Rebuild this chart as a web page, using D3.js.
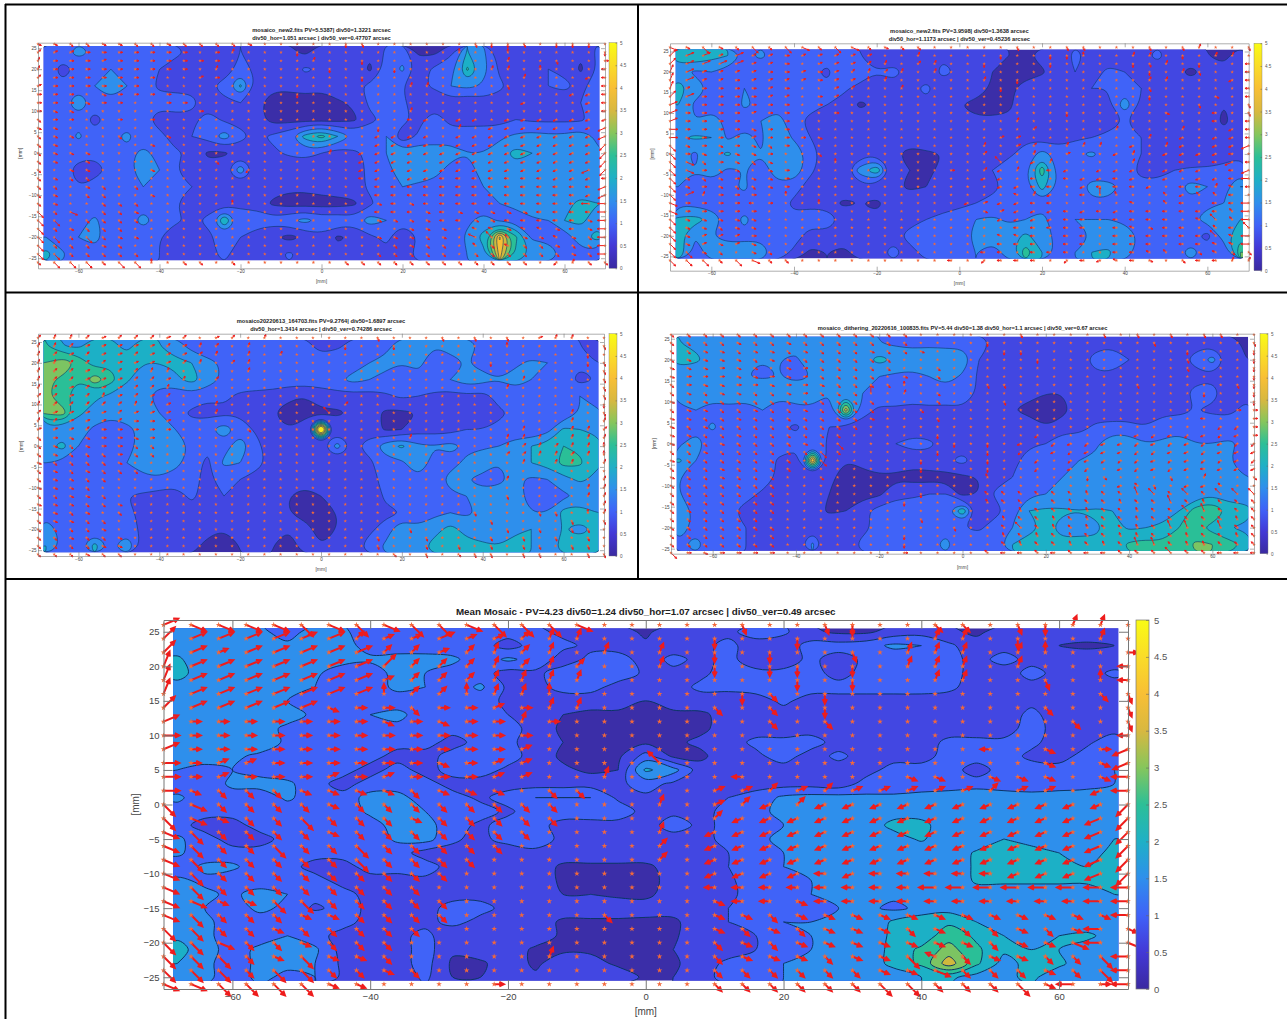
<!DOCTYPE html>
<html>
<head>
<meta charset="utf-8">
<script src="https://cdn.jsdelivr.net/npm/d3@7"></script>
<style>
  html, body { margin: 0; background: #fff; }
  svg { display: block; }
  text { font-family: "Liberation Sans", Arial, sans-serif; }
</style>
</head>
<body>
<svg id="viz" width="1287" height="1019"></svg>
<script>
// ====================
// DATA
// ====================
// colour bands, 0.5 arcsec wide, same as the colorbar ticks
const thresholds = [0.5, 1, 1.5, 2, 2.5, 3, 3.5, 4, 4.5];
const bandColors = ['#3a2fa8', '#4347e2', '#3f64f8', '#2f8fec', '#1fb0c6', '#2cbf97', '#7cc462', '#d0b83e', '#f7bf35', '#f9e81f'];
const colorbarStops = ['#3a2aa0', '#4338d6', '#3f62f8', '#2f8fec', '#1fb0c6', '#2cbf97', '#86c65c', '#d8b840', '#f8bf35', '#fadc28', '#f9fb15'];
const colorbarTicks = [0, 0.5, 1, 1.5, 2, 2.5, 3, 3.5, 4, 4.5, 5];
const xTicks = [-60, -40, -20, 0, 20, 40, 60];
const yTicks = [-25, -20, -15, -10, -5, 0, 5, 10, 15, 20, 25];

// Values in 0.1 arcsec. Columns x = -68..68 step 4
// Mean mosaic rows y = 25..-25 step 2
const meanZ = [
  [17,17,17,16,13,17,16, 12,12,11,11,12,12,11, 9,8,7,4,8,9,9, 12,11,6,4,4,7,8, 6,4,7,8,9,8,8],
  [17,15,17,17,16,16,17, 13,12,12,12,12,8,12, 11,9,8,6,8,9,11, 8,7,12,12,13,16,15, 11,7,8,9,5,4,5],
  [21,16,17,17,17,15,17, 16,17,17,16,12,16,13, 8,11,12,8,11,9,11, 8,8,11,8,11,12,12, 12,8,12,8,8,8,7],
  [22,17,18,18,17,16,12, 12,17,15,13,12,8,9, 12,12,13,9,9,9,12, 11,11,12,8,12,12,12, 12,8,7,12,8,8,11],
  [18,17,17,17,17,15,12, 13,16,15,12,16,9,8, 12,12,8,8,8,11,11, 12,12,12,12,12,12,11, 11,8,8,8,8,8,8],
  [17,16,17,17,15,13,12, 14,13,13,12,12,9,8, 7,7,7,5,7,8,8, 8,11,8,8,8,8,9, 8,8,8,9,8,8,8],
  [17,17,16,17,17,14,12, 15,16,13,12,12,10,8, 5,4,4,4,4,4,7, 8,8,8,8,8,8,7, 8,8,8,11,8,8,8],
  [17,17,18,17,14,13,13, 14,14,12,12,12,12,8, 4,5,4,4,4,4,7, 8,8,8,8,7,7,6, 8,8,8,12,8,8,8],
  [18,17,17,18,14,13,15, 12,12,12,8,12,11,8, 5,4,4,4,4,6,8, 11,11,12,8,8,8,8, 11,11,11,11,8,9,13],
  [17,18,16,14,13,13,12, 12,8,8,12,12,12,8, 4,4,4,12,4,4,8, 9,12,8,11,8,8,8, 12,12,12,9,8,12,14],
  [15,13,15,13,12,12,12, 8,12,8,12,12,9,8, 6,4,5,21,17,7,8, 8,8,8,8,8,12,12, 12,8,12,12,12,14,15],
  [12,12,16,17,16,12,8, 12,12,12,8,8,8,8, 8,8,9,12,9,9,9, 8,8,8,7,12,12,12, 12,12,12,12,13,13,15],
  [16,12,13,12,16,12,12, 17,17,12,12,9,12,15, 15,15,9,9,8,8,10, 12,16,17,17,16,16,17, 18,20,18,17,17,18,19],
  [13,12,12,12,12,12,12, 16,17,15,12,12,9,13, 13,13,13,8,9,9,11, 14,16,16,16,16,17,17, 19,20,15,17,17,16,18],
  [12,8,8,12,12,12,12, 13,17,17,12,9,12,12, 8,8,8,8,12,9,11, 14,15,15,15,16,22,22, 16,16,15,17,16,15,18],
  [16,12,8,8,12,12,12, 12,16,17,11,8,13,14, 8,5,5,5,8,9,11, 14,16,16,15,15,17,21, 15,15,20,19,17,18,20],
  [16,12,12,12,12,12,12, 12,12,8,8,8,5,8, 8,8,8,8,8,9,10, 14,15,15,16,16,15,15, 15,21,21,21,20,17,22],
  [12,16,16,12,12,8,8, 12,12,12,8,8,8,8, 4,4,4,4,7,9,10, 12,15,16,17,16,15,15, 16,21,21,21,21,20,21],
  [16,14,12,12,12,12,8, 8,8,9,8,8,8,8, 4,4,4,4,6,9,9, 13,14,15,16,16,15,15, 15,21,21,21,21,21,21],
  [16,16,14,17,15,12,12, 8,8,8,8,8,5,8, 5,5,4,4,7,9,9, 12,13,15,16,16,16,15, 17,17,17,17,17,17,20],
  [17,15,13,16,14,9,12, 9,8,8,12,12,8,8, 8,8,8,7,7,9,10, 11,14,14,15,16,14,16, 18,17,16,17,18,16,16],
  [18,16,13,13,13,15,12, 8,8,8,12,8,8,8, 4,4,4,4,4,8,10, 12,15,15,15,15,21,24, 24,20,18,18,16,17,17],
  [19,16,13,13,15,12,8, 5,8,12,5,8,8,8, 4,4,4,4,4,9,9, 10,14,15,15,17,21,22, 28,24,20,19,20,21,18],
  [22,17,13,16,16,16,8, 8,8,12,6,8,8,4, 4,4,4,4,5,8,8, 10,12,15,15,16,22,26, 32,26,21,20,20,18,17],
  [20,16,13,16,16,15,9, 5,8,12,4,4,8,4, 8,7,4,4,4,8,11, 13,15,15,17,16,22,26, 38,26,18,22,21,17,17],
  [18,16,13,16,14,15,9, 8,7,11,5,5,7,6, 8,8,8,4,5,9,11, 14,15,15,17,16,16,20, 21,18,19,21,17,17,17]
];

// Small panels, rows y = 24..-24 step 4
const new2aZ = [
  [12,13,17,14,12,11,13, 11,11,9,7,6,10,9, 7,6,4,8,10,9,6, 11,13,4,4,9,20,16, 7,6,8,9,9,6,11],
  [13,8,11,12,15,12,12, 10,8,8,9,7,12,9, 8,7,11,9,6,8,4, 12,16,8,11,13,26,17, 9,7,7,10,9,4,10],
  [14,11,13,15,18,15,12, 9,8,9,9,12,21,9, 6,6,7,6,9,9,11, 13,10,9,11,15,17,14, 11,8,6,10,11,9,12],
  [12,13,19,13,14,13,12, 12,13,11,8,9,10,6, 3,3,3,3,4,6,11, 11,11,7,6,8,5,8, 8,9,9,5,8,10,12],
  [12,11,13,8,12,13,12, 7,8,9,12,9,9,7, 3,3,3,3,3,4,9, 11,12,8,14,7,8,8, 8,10,9,9,9,9,12],
  [11,12,16,12,14,16,13, 12,7,10,12,18,11,9, 11,14,22,27,20,14,13, 15,6,11,12,14,13,13, 14,16,17,16,16,18,14],
  [14,10,11,11,14,14,16, 14,11,9,4,4,8,8, 9,11,12,10,7,9,11, 15,17,19,18,16,15,15, 18,22,20,18,20,18,16],
  [12,11,9,8,11,14,17, 15,10,7,7,9,18,8, 7,5,6,5,7,8,11, 14,17,18,16,14,13,17, 19,18,18,17,18,18,19],
  [11,11,10,12,12,11,15, 13,11,10,8,6,7,8, 7,6,6,7,8,8,11, 14,15,14,14,13,14,15, 15,16,17,17,18,18,19],
  [13,11,11,12,12,12,13, 10,10,8,8,8,9,8, 4,3,3,3,3,4,9, 13,14,14,13,13,14,12, 15,16,20,17,19,21,20],
  [14,11,13,16,12,13,17, 13,11,9,11,25,12,13, 12,14,17,13,14,12,18, 15,11,13,14,14,14,17, 14,13,14,15,20,21,18],
  [15,12,15,17,12,14,12, 10,6,7,9,12,10,7, 6,3,6,9,4,6,9, 11,7,10,12,12,16,22, 46,26,14,14,12,18,22],
  [22,16,11,13,13,12,11, 10,8,8,9,11,8,6, 8,11,8,6,7,6,8, 9,9,11,12,13,15,18, 42,24,19,17,14,13,13]
];
const new2bZ = [
  [22,24,22,20,14,16,13, 12,11,12,11,10,8,7, 8,9,9,8,5,7,5, 4,7,8,11,9,8,6, 9,11,8,7,5,4,7],
  [18,14,15,13,13,12,15, 12,11,9,13,14,10,12, 8,6,12,9,8,5,4, 3,4,9,10,8,11,10, 9,8,6,4,6,6,8],
  [22,18,14,13,15,12,11, 12,13,11,11,8,7,8, 8,12,6,9,9,4,4, 7,9,8,7,10,10,12, 10,6,8,7,7,8,8],
  [20,14,12,12,16,14,13, 12,11,10,8,4,6,6, 7,8,7,5,3,3,4, 8,9,6,5,6,9,19, 9,7,5,7,7,5,9],
  [18,15,19,13,12,15,18, 11,9,9,10,8,7,6, 7,8,7,7,6,6,6, 7,6,7,6,6,8,10, 9,7,6,7,7,4,7],
  [19,21,20,14,17,14,19, 14,10,9,8,10,7,7, 8,9,9,7,8,8,9, 9,8,7,9,10,11,11, 10,9,8,7,8,7,9],
  [17,14,18,21,17,15,18, 20,12,8,7,7,9,6, 3,4,5,5,7,8,9, 12,17,13,14,16,13,14, 10,9,7,6,6,7,9],
  [19,15,18,14,15,13,17, 19,11,7,7,18,24,8, 5,4,6,8,9,10,13, 14,28,13,13,12,11,13, 8,8,10,11,11,12,13],
  [15,13,13,14,16,12,14, 12,8,5,8,8,8,6, 4,5,6,8,7,9,11, 13,22,14,12,17,17,14, 12,12,13,17,15,13,20],
  [14,13,12,14,13,13,12, 9,9,7,4,5,4,7, 8,7,7,9,10,11,12, 14,14,15,13,14,14,13, 14,13,13,14,14,15,17],
  [21,22,19,13,16,13,12, 11,12,14,8,8,6,10, 9,10,12,12,15,16,14, 15,16,13,15,15,15,14, 15,14,15,14,17,18,20],
  [22,15,15,13,14,14,12, 12,8,8,7,8,5,9, 11,10,14,12,17,17,18, 21,18,13,14,15,17,18, 14,13,13,12,8,18,24],
  [24,14,16,18,17,17,13, 9,4,5,4,7,9,11, 9,11,10,12,15,13,17, 28,20,13,15,20,21,16, 14,15,13,17,13,10,30]
];
const mosaicZ = [
  [25,20,19,23,21,19,22, 20,18,13,10,10,10,11, 12,11,12,8,9,12,14, 14,17,16,15,16,18,14, 12,11,11,12,11,10,9],
  [30,34,29,22,24,22,20, 20,21,20,17,14,13,13, 14,14,13,13,14,12,15, 16,15,16,13,14,15,13, 13,14,16,15,13,11,10],
  [31,29,25,34,27,21,16, 18,19,22,18,14,13,12, 13,13,13,12,14,17,15, 14,13,14,13,15,18,17, 15,17,15,14,13,8,10],
  [31,26,23,21,19,16,17, 12,11,13,11,11,9,9, 8,6,5,8,8,8,8, 9,11,10,9,8,9,8, 12,13,14,11,12,15,13],
  [31,33,21,18,16,17,15, 15,12,9,8,9,9,5, 5,3,3,4,4,6,7, 4,4,5,7,7,8,9, 9,11,12,13,11,15,16],
  [17,16,17,14,13,14,16, 17,15,12,14,18,13,9, 8,5,9,60,8,5,8, 4,5,8,8,8,10,10, 11,11,10,13,21,20,19],
  [18,22,15,13,13,14,16, 18,19,14,11,13,18,12, 6,7,7,9,17,9,12, 18,21,16,15,17,14,14, 15,18,20,22,25,24,22],
  [15,14,12,11,12,15,17, 20,17,12,9,16,15,11, 9,8,7,6,7,8,9, 13,14,19,13,13,16,19, 15,17,20,22,27,26,21],
  [14,12,10,12,11,13,14, 14,12,11,9,12,10,9, 8,6,6,5,7,8,9, 11,12,14,12,17,15,13, 14,16,14,15,18,21,19],
  [12,10,11,12,12,10,9, 8,8,11,8,10,6,8, 7,5,4,5,6,7,6, 11,12,13,13,14,15,17, 17,16,14,13,14,16,17],
  [13,11,12,11,12,11,9, 7,7,8,6,7,5,6, 6,5,4,4,5,6,8, 9,10,12,14,15,14,16, 15,15,15,15,22,23,20],
  [18,13,15,12,14,12,9, 8,9,9,6,5,7,6, 5,5,6,4,5,7,9, 12,20,16,18,22,18,17, 19,18,20,18,20,18,21],
  [20,14,13,22,14,20,8, 7,8,6,4,4,5,6, 5,4,6,5,6,8,12, 16,15,18,22,24,22,21, 20,24,20,18,22,23,21]
];
const ditherZ = [
  [20,19,18,19,18,17,17, 17,17,16,17,17,15,14, 14,14,13,13,12,9,9, 9,8,8,9,8,8,6, 7,7,7,8,8,8,4],
  [23,21,18,19,17,15,15, 14,20,16,17,18,22,19, 17,18,19,19,10,7,6, 9,6,8,8,12,15,10, 9,9,8,12,17,8,5],
  [15,16,18,16,15,14,15, 14,15,16,15,15,15,14, 14,15,18,14,9,8,6, 8,7,8,8,9,8,8, 7,10,9,8,9,8,9],
  [17,18,17,20,18,20,16, 17,18,15,19,15,13,14, 13,13,12,14,9,9,8, 7,5,5,8,9,8,9, 8,7,8,12,12,7,9],
  [14,15,13,13,12,15,13, 14,14,12,38,12,9,9, 8,9,9,9,9,7,5, 3,3,3,8,7,8,8, 9,9,9,10,9,9,11],
  [13,13,16,12,13,11,11, 9,13,10,9,8,7,8, 7,7,7,8,7,8,7, 9,5,8,8,11,11,11, 10,12,12,13,13,12,12],
  [14,18,12,12,13,12,13, 12,13,9,7,8,9,10, 12,11,8,7,7,7,8, 9,10,13,13,14,20,19, 15,16,19,15,15,16,14],
  [21,15,13,12,13,13,9, 7,45,6,5,7,9,8, 7,8,9,12,7,7,8, 13,15,14,15,16,19,17, 18,20,17,20,16,15,14],
  [15,13,13,13,11,13,9, 7,7,6,3,3,4,4, 3,3,3,4,5,8,10, 14,13,15,16,17,16,16, 16,16,15,15,17,15,15],
  [15,13,11,12,12,9,8, 8,9,5,3,3,4,9, 9,10,10,3,5,11,13, 14,15,15,16,15,16,15, 17,17,15,16,19,16,16],
  [18,14,13,11,8,9,9, 8,7,4,5,9,12,12, 13,13,14,24,8,8,13, 20,21,21,20,21,20,19, 18,17,20,28,30,24,23],
  [18,13,13,12,10,6,8, 8,8,9,9,9,11,10, 11,11,13,10,9,13,15, 17,22,17,18,19,22,19, 20,21,25,27,23,20,19],
  [14,17,12,12,10,8,5, 7,16,5,8,11,12,13, 14,13,17,11,13,13,20, 24,24,22,22,21,22,26, 27,26,27,31,30,27,24]
];

// Arrow field, columns x = -70..70 step 4, rows y = 26..-26 step 2.
// Letter = direction (a east, then anticlockwise in 22.5 degree steps),
// lower case short, upper case long, '.' just the star.
const meanArrows = [
  'BPPPPOPOP OOPOOOP.. ...n..nm. .oo.nmdd.',
  'CBBBBBBcb bBbbcdd.. ..m..m.e. .dd.m..d.',
  'CBbBBBBBc cbcdcd.d. d.m.m..n. ddd.de..a',
  'DBBBBBBBC cccdcdc.. d.m.mm.m. ddd.d...i',
  'DBBBBBBBb cccdddd.. .....m.m. .dd..n.ei',
  'DBBBBBBBe ccedde... ...mo.m.. .......on',
  'CBBBBBpaa oaabadd.. ..o.o.m.. .....o..n',
  'Baaaaaaap apaada... ....o.o.. ......o.n',
  'Aaaaaaaaa aaaaa.... ......... ........i',
  'Baaaaaaaa aaaab.... ......... ...i.p.aJ',
  'Aabbaaaaa apabb.... G........ .....p.pJ',
  'Aabaaabab aaabb..d. ...i..... pp.ppp.pI',
  'Apooopppp oppp.oo.. ..bbcbcbb bbbcbb.jI',
  'OPoooopoo oooooo... d.bcjcjjj jjjjjjjjK',
  'OPpooOooo pooooo... ..cjjjjjj jjjjjjjJK',
  'POoooopoo ooooo.... d.jjjjjjj jjjjjjjJK',
  'POooOooOo oooo..... c.jjjjjjj jjjjjjjJK',
  'POoooooOo ooo...... c.jjjjjjj jjjjjjjJK',
  'POooooooo oo....... ..jjjjiji iiiijjjJK',
  'POooooooo o........ ..iiiiiii iIIIIIIII',
  'PPppOOooo oo....... ..piipiii iiiiiiiII',
  'POoooppoo oo.....o. ..ppopppp ppppppppI',
  'OOoopoooo o........ ..popoppp opoopopIp',
  'OOPoopooo ......... ..opopppp pppoppPIP',
  'OOOopOppo .....d... ..opppopp OhoppooOI',
  'OOOoOOoop o........ ..oooooop pPooopoOI',
  'PPOOOOpp. ...a..... ..ooooooO OoooOpIaI'
];
const new2aArrows = [
  'ppooppoop oooop.... .mn...... nmmn.mmm.',
  'cbbaaaaaa a.ad...m. ........e ..e.....m',
  'daaabaaaa aaa.....d ..m...... ..d..n..a',
  'daaaaaaaa a.d...... m...m.... .dd.e...i',
  'caaaaaaa. .ba...... ..m...... ...d...ji',
  'baaaaaa.. ......... .....dd.. ..n.....i',
  'aaa.paaaa .......m. ......... ......jji',
  'aaapaa..a a........ ......... ...j...ji',
  'app...... .a....... .....d... .......ji',
  'oaa..a.a. ......... .....ij.j j.jjjjjjj',
  'pp....... ......... ...m....d .jjjjjjjJ',
  'opp..o..p ......... ...jjjj.j jjjjjjjjJ',
  'op.....p. ......... ...jjjjjj jjjjjjjjK',
  'oppp..... ......... d.jjjjjjj jjjjjjjjK',
  'op.p..... ..o...... ..jjjj.jj jjjjjjjjK',
  'o.pp...p. ....k.... ..jjjjjjj jjjjjjjJK',
  'opoo..... ......... ..ij.jjii iiiiijjji',
  'oo.po.o.. ......... ...iiiiii iiiiiiiiJ',
  'op.oo..p. ......... ...iiiiii iiiiiiijJ',
  'op..ooo.. ...e..... ...pipiii iiiiiiiII',
  'OoP.oop.. ......... ...iiipip ppppiiiiI',
  'OO.oooo.. ......... ...ppppii ppiiiiipI',
  'Oopooo... ......... .....ppp. hhphhpipI',
  'OOoOopp.. ......... ...pppop. HGgpphpoI',
  'Oooopo... ......... ....opoo. gohoopooI',
  'OOooooo.. ......... ...ooooo. oooooopoI',
  'oOOOoOOe. oo.o..... .oooooooo oooo.kdoo'
];
const new2bArrows = [
  'PpOpoOoOP oOPopoo.. ...n..nn. ..n.nd..n',
  'CBBbBbbab bbbb..d.. ..m..mme. .dd.m.dd.',
  'CBBBBbba. bbbcd.cd. .m...m... .mnd.m..i',
  'DBbbbbaab abcdcd.d. ......... ..m.dn..i',
  'DBbbabbbb abbed.... .d.m..... ..dd...ji',
  'Dbaaaaba. .bc..d... ..m...... ..n.....i',
  'CBaaaabb. ab....... ......... ..m...p.i',
  'Baaaaaaa. a........ ......... .....n..n',
  'Baaaabaa. .a....... ......m.. ...p..i.n',
  'Baaaa..a. ......... ...d..... ......i.i',
  'Aaaaapaa. ......... ....c.... d...d..ji',
  'Apaabbaaa p........ ..bb..... ..d.j.jji',
  'Opapapoa. ......... .d.bc.ddd .j.dj.jjJ',
  'Oapbppa.. o........ .c..d.b.. jd.jjjji.',
  'OPoapop.. .e....... ..G.jd... .d..i.iJi',
  'OPaop.pa. ........a .cjd.ij.j jj.jjj.iJ',
  'Opopappa. ......... .jj.i.ijj ij.j.jjiI',
  'Opapoopa. ......... ..jjii.ji iij.iidhi',
  'OBdaaa.e. ......... ...hdj.iE f..gjggi.',
  'Paaaaia.. e........ jbjjii... .h.gi.iiI',
  'Paaaaa... ......... .pbjjjiji jiiiiiigI',
  'Oppppp... ......... ..jjjjii. iiii.hGgI',
  'Oppopp... ......... ...iiiii. ihpii.giG',
  'Opbbba... ......... ..hhi.ii. iiiiiiGhI',
  'Opbpbp... ......... ..iii.ii. iii.iihhI',
  'OOpo.po.. ......... .ii.iii.. iihg.ohoo',
  'OOOoOPoo. ........i .kiii.kij hip.oiidd'
];
const mosaicArrows = [
  'cddcbcccb c.bc.d... ...n...n. n.n.bdd..',
  'ddcbbbbbc bdc.d.... .m..m.... ..e.....n',
  'dcbcbbcbb bcd.d.d.. ......... .......m.',
  'ddcccbbbb cd.cd.... ......... .m.....mn',
  'dccbcccdd ....d.... ......... ........n',
  'dccbbbccb d.c...... ......... ...d....n',
  'dcbcbbccd ......... ......... ..d.....n',
  'ccbcdbcbc ......... ......... ........n',
  'dcccccddb ..d...... .c....... ........m',
  'cbbbbcbbb ..d...... G........ ......d.n',
  'dcbbbcaab ......... ......... ......d.d',
  'bbbcaaaaa ....o.... ......... ...d..ddc',
  'oappaapa. ......... .....d... ..ddd.ddd',
  'opopaaoo. ......... ......... ..dcdcdde',
  'opoooaoo. ......... ......... ..ccddcde',
  'poooop... ......... ......... ...d.dd.d',
  'opopooo.. ......... ......... .........',
  'oppoo.... ......... ......... ..d.....d',
  'pppo..... ......... ......... .......dd',
  'ooppo.... ......... ......... ..n....dd',
  'pppoop... ......... ......... ........d',
  'opop.o... ......... ......... n...nn.ed',
  'oppoo.... ......... ......... .n....n.n',
  'oooop.... ......... .....n... ..n.n.nn.',
  'oopoop... ......... ...n..n.. .n.n.n.n.',
  'oooopp... ......... ...n..n.n .n.nn.nn.',
  'ooopoo... ......... ....o.n.o nn.nn..nn'
];
const ditherArrows = [
  'ooooooooo oooooo... ...n....n .n.n.nn..',
  'oooopoopo oooooo... .m....... ..n.....n',
  'ooppoppop ooopoop.. ..mm..... ....m...m',
  'oppppoppo ooooo.... ....m.... ....n...m',
  'pppapp.pa ooooo..o. ......... ....n...m',
  'paaappapa oooo.p.o. ......... ........m',
  'oappaapaa pooooe... .nn...... .n.....nm',
  'opoppoopa oooE.d.o. ......... .....m..m',
  'pppoooooo oooo...o. ..n...... ........m',
  'oppoopoop oooo..o.. ......... .......aa',
  'ppoopoooo ooop...n. ......... .....i..a',
  'popoooooo ooo...... ......... ......kka',
  'ppoopoooo oo.....m. ....k.... .jkjkjkja',
  'poopoooop oO......m .m.j.kjkj jkjkjkjkk',
  'oopoooooo Oo.....m. .m.k.jkjj jkkjjkjjj',
  'pooooooo. O.....m.. .m..k.kjk kkjkjkkjk',
  'ooopoooo. ......m.. .m..k.jk. jkjkjijjj',
  'poopooo.. o........ .f.....mo ...n.d..o',
  'ooooooo.. ......... ......... jgn.jjg..',
  'ooooooo.. ......m.. .ggggggfg gFGgGgGGG',
  'oooo.oo.. .....m... .fgg.gfgg fggFgfggg',
  'opooooo.. ......... ...fgggfg gfggGFggg',
  'oooooo... ......n.. ..fggfgfg gfgggggfg',
  'ooooooo.. ........n ..gGgfgfg gfgFFgFgg',
  'ooooo.o.. .....m... ..fgfgfgg ffggfggfg',
  'ooooooo.. .....m... ..gfggfgf gFFgffggg',
  'Oapaaaa.. .....a... .giigigii gggGggiii'
];

// ====================
// LAYOUT
// ====================
const panels = [
  { title: ['mosaico_new2.fits  PV=5.5387| div50=1.3221 arcsec', 'div50_hor=1.051 arcsec | div50_ver=0.47707 arcsec'],
    z: new2aZ, arrows: new2aArrows, yStep: 4,
    box: [38, 42.7, 605, 268.3], yDomain: [-27.4, 26.3], bar: [609, 617], titleY: [32, 40], labelX: 22, labelY: 283, small: true },
  { title: ['mosaico_new2.fits  PV=3.9598| div50=1.3638 arcsec', 'div50_hor=1.1173 arcsec | div50_ver=0.45236 arcsec'],
    z: new2bZ, arrows: new2bArrows, yStep: 4,
    box: [670, 43.3, 1248.7, 270.7], yDomain: [-28.5, 27], bar: [1254, 1262], titleY: [33, 41], labelX: 654, labelY: 285, small: true },
  { title: ['mosaico20220613_164703.fits  PV=9.2764| div50=1.6897 arcsec', 'div50_hor=1.3414 arcsec | div50_ver=0.74286 arcsec'],
    z: mosaicZ, arrows: mosaicArrows, yStep: 4,
    box: [38, 333.7, 604, 556], yDomain: [-26.4, 27], bar: [609, 617], titleY: [323, 331], labelX: 23, labelY: 571, small: true },
  { title: ['mosaico_dithering_20220616_100835.fits  PV=5.44 div50=1.38 div50_hor=1.1 arcsec | div50_ver=0.67 arcsec'],
    z: ditherZ, arrows: ditherArrows, yStep: 4,
    box: [671, 333.7, 1254, 553.7], yDomain: [-26.2, 26.2], bar: [1260, 1268], titleY: [330], labelX: 656, labelY: 569, small: true },
  { title: ['Mean Mosaic - PV=4.23 div50=1.24 div50_hor=1.07 arcsec | div50_ver=0.49 arcsec'],
    z: meanZ, arrows: meanArrows, yStep: 2,
    box: [163.5, 620, 1128, 989], yDomain: [-26.7, 26.7], bar: [1136, 1149], titleY: [615], labelX: 139, labelY: 1015, small: false }
];

const xDomain = [-70, 70];
const imageX = [-68.6, 68.6];
const imageY = [-25.5, 25.5];

const svg = d3.select('#viz');
const defs = svg.append('defs');

// soft filter, the source picture is a resampled screenshot
defs.append('filter').attr('id', 'soft').append('feGaussianBlur').attr('stdDeviation', 0.45);

const grad = defs.append('linearGradient').attr('id', 'colorbar')
  .attr('x1', 0).attr('x2', 0).attr('y1', 1).attr('y2', 0);
colorbarStops.forEach((c, i) => {
  grad.append('stop').attr('offset', i / (colorbarStops.length - 1)).attr('stop-color', c);
});

// table lines between the panels
const tableLines = [[5, 4.5, 1287, 4.5], [5, 292.5, 1287, 292.5], [5, 579, 1287, 579], [5.5, 4, 5.5, 1019], [638, 4, 638, 579]];
svg.selectAll('line.table').data(tableLines).join('line')
  .attr('class', 'table')
  .attr('x1', d => d[0]).attr('y1', d => d[1]).attr('x2', d => d[2]).attr('y2', d => d[3])
  .attr('stroke', '#000').attr('stroke-width', 2);

panels.forEach(drawPanel);

function drawPanel(p, idx) {
  const [left, top, right, bottom] = p.box;
  const x = d3.scaleLinear().domain(xDomain).range([left, right]);
  const y = d3.scaleLinear().domain(p.yDomain).range([bottom, top]);
  const fontSize = p.small ? 4.6 : 9.5;
  const g = svg.append('g');
  const marks = g.append('g').attr('filter', 'url(#soft)');

  // ====================
  // Filled contours
  // ====================
  const ny = p.z.length;
  const nx = p.z[0].length;
  const values = [];
  p.z.forEach(row => { for (let i = 0; i < nx; i++) values.push((row[i] ?? row[row.length - 1]) / 10); });

  // contour units -> mm -> pixels, rounded so the blobs look like the source
  const y0 = (ny - 1) * p.yStep / 2;
  const ring = d3.line()
    .x(d => x(-68 + (d[0] - 0.5) * 4))
    .y(d => y(y0 - (d[1] - 0.5) * p.yStep))
    .curve(p.small ? d3.curveBasisClosed : d3.curveCatmullRomClosed.alpha(0.5));
  const contourPath = d => d.coordinates.map(poly => poly.map(r => ring(r.slice(0, -1))).join('')).join('');

  const clipId = 'clip' + idx;
  defs.append('clipPath').attr('id', clipId).append('rect')
    .attr('x', x(imageX[0])).attr('y', y(imageY[1]))
    .attr('width', x(imageX[1]) - x(imageX[0])).attr('height', y(imageY[0]) - y(imageY[1]));

  const image = marks.append('g').attr('clip-path', `url(#${clipId})`);
  image.append('rect')
    .attr('x', x(imageX[0])).attr('y', y(imageY[1]))
    .attr('width', x(imageX[1]) - x(imageX[0])).attr('height', y(imageY[0]) - y(imageY[1]))
    .attr('fill', bandColors[0]);

  const contours = d3.contours().size([nx, ny]).thresholds(thresholds)(values);
  image.selectAll('path').data(contours).join('path')
    .attr('d', contourPath)
    .attr('fill', (d, i) => bandColors[i + 1])
    .attr('stroke', '#0c3564')
    .attr('stroke-width', p.small ? 0.6 : 1)
    .attr('stroke-linejoin', 'round');

  // ====================
  // Axes
  // ====================
  const tickLen = p.small ? 4 : 9;
  const axes = [
    d3.axisBottom(x).tickValues(xTicks), d3.axisTop(x).tickValues(xTicks),
    d3.axisLeft(y).tickValues(yTicks), d3.axisRight(y).tickValues(yTicks)
  ];
  const shifts = [[0, bottom], [0, top], [left, 0], [right, 0]];
  axes.forEach((axis, i) => {
    const a = g.append('g').attr('transform', `translate(${shifts[i]})`)
      .call(axis.tickSizeOuter(0).tickSizeInner(-tickLen).tickPadding(p.small ? 1.5 : 4));
    a.selectAll('path,line').attr('stroke', '#777').attr('stroke-width', p.small ? 0.6 : 1);
    a.selectAll('text').attr('font-size', fontSize).attr('font-family', '"Liberation Sans", Arial, sans-serif').attr('fill', '#444');
    if (i % 2) a.selectAll('text').remove();
  });

  // ====================
  // Arrows and stars
  // ====================
  const scaleLen = p.small ? { short: 0.9, long: 1.9 } : { short: 1.4, long: 2.3 };
  const star = d3.symbol().type(d3.symbolStar).size(p.small ? 4 : 10)();
  const points = [];
  p.arrows.forEach((row, j) => {
    const cells = row.replace(/ /g, '');
    for (let i = 0; i < 36; i++) {
      const c = cells[i] || '.';
      const d = { xv: -70 + i * 4, yv: 26 - j * 2, u: 0, v: 0 };
      if (c !== '.') {
        const lower = c.toLowerCase();
        const angle = (lower.charCodeAt(0) - 97) * Math.PI / 8;
        const len = c === lower ? scaleLen.short : scaleLen.long;
        d.u = len * Math.cos(angle);
        d.v = len * Math.sin(angle);
      }
      points.push(d);
    }
  });

  const arrowWidth = p.small ? 1 : 2;
  const headLen = p.small ? 2.2 : 5;
  const arrows = marks.append('g').attr('stroke', '#ee1c1c');
  arrows.selectAll('path').data(points.filter(d => d.u || d.v)).join('path')
    .attr('stroke-width', arrowWidth)
    .attr('d', d => {
      const x1 = x(d.xv), y1 = y(d.yv), x2 = x(d.xv + d.u), y2 = y(d.yv + d.v);
      const a = Math.atan2(y2 - y1, x2 - x1);
      const h = headLen;
      const xa = x2 - h * Math.cos(a - 0.45), ya = y2 - h * Math.sin(a - 0.45);
      const xb = x2 - h * Math.cos(a + 0.45), yb = y2 - h * Math.sin(a + 0.45);
      return `M${x1},${y1}L${x2},${y2}M${xa},${ya}L${x2},${y2}L${xb},${yb}`;
    })
    .attr('fill', 'none');

  marks.append('g').selectAll('path').data(points).join('path')
    .attr('d', star)
    .attr('transform', d => `translate(${x(d.xv)},${y(d.yv)})`)
    .attr('fill', '#f2683a');

  // ====================
  // Colorbar
  // ====================
  const barScale = d3.scaleLinear().domain([0, 5]).range([bottom, top]);
  g.append('rect')
    .attr('x', p.bar[0]).attr('y', top)
    .attr('width', p.bar[1] - p.bar[0]).attr('height', bottom - top)
    .attr('fill', 'url(#colorbar)').attr('stroke', '#777').attr('stroke-width', p.small ? 0.4 : 0.7);
  const barAxis = g.append('g').attr('transform', `translate(${p.bar[1]},0)`)
    .call(d3.axisRight(barScale).tickValues(colorbarTicks).tickFormat(d3.format('')).tickSizeOuter(0)
      .tickSizeInner(-(p.small ? 1.5 : 3)).tickPadding(p.small ? 3 : 5));
  barAxis.select('.domain').remove();
  barAxis.selectAll('line').attr('stroke', '#666').attr('stroke-width', 0.6);
  barAxis.selectAll('text').attr('font-size', fontSize).attr('font-family', '"Liberation Sans", Arial, sans-serif').attr('fill', '#555');

  // ====================
  // Titles and labels
  // ====================
  const cx = x(0);
  g.selectAll('text.title').data(p.title).join('text')
    .attr('class', 'title')
    .attr('x', cx).attr('y', (d, i) => p.titleY[i])
    .attr('text-anchor', 'middle')
    .attr('font-weight', 'bold')
    .attr('font-size', p.small ? 5.7 : 9.8)
    .attr('fill', '#222')
    .text(d => d);

  g.append('text')
    .attr('x', cx).attr('y', p.labelY)
    .attr('text-anchor', 'middle')
    .attr('font-size', p.small ? 5 : 10)
    .attr('fill', '#444')
    .text('[mm]');

  g.append('text')
    .attr('transform', `translate(${p.labelX},${y(0)}) rotate(-90)`)
    .attr('text-anchor', 'middle')
    .attr('font-size', p.small ? 5 : 10)
    .attr('fill', '#444')
    .text('[mm]');
}
</script>
</body>
</html>
